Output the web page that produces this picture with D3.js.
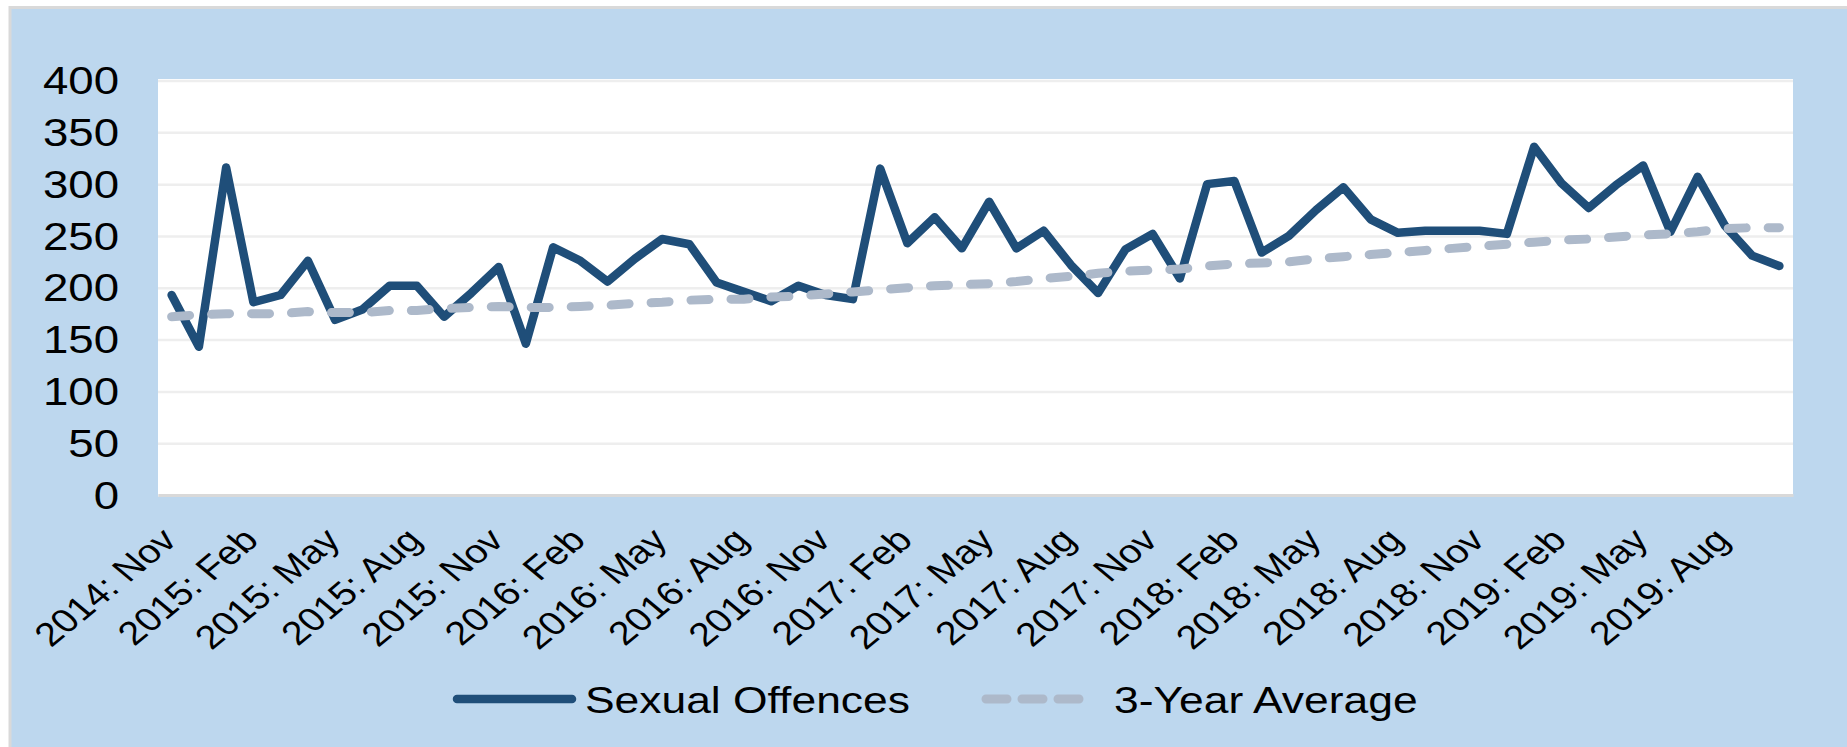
<!DOCTYPE html>
<html>
<head>
<meta charset="utf-8">
<script src="https://cdn.jsdelivr.net/npm/d3@7"></script>
<style>
  body { margin: 0; background: #fff; }
  svg { display: block; font-family: "Liberation Sans", Arial, sans-serif; }
</style>
</head>
<body>
<script>
// Categories: one per month, Nov 2014 - Oct 2019
const meses = [
  "2014: Nov", "2014: Dec",
  "2015: Jan", "2015: Feb", "2015: Mar", "2015: Apr", "2015: May", "2015: Jun",
  "2015: Jul", "2015: Aug", "2015: Sep", "2015: Oct", "2015: Nov", "2015: Dec",
  "2016: Jan", "2016: Feb", "2016: Mar", "2016: Apr", "2016: May", "2016: Jun",
  "2016: Jul", "2016: Aug", "2016: Sep", "2016: Oct", "2016: Nov", "2016: Dec",
  "2017: Jan", "2017: Feb", "2017: Mar", "2017: Apr", "2017: May", "2017: Jun",
  "2017: Jul", "2017: Aug", "2017: Sep", "2017: Oct", "2017: Nov", "2017: Dec",
  "2018: Jan", "2018: Feb", "2018: Mar", "2018: Apr", "2018: May", "2018: Jun",
  "2018: Jul", "2018: Aug", "2018: Sep", "2018: Oct", "2018: Nov", "2018: Dec",
  "2019: Jan", "2019: Feb", "2019: Mar", "2019: Apr", "2019: May", "2019: Jun",
  "2019: Jul", "2019: Aug", "2019: Sep", "2019: Oct"
];

// Sexual Offences, monthly count
const delitos = [
  193, 143,
  316, 186, 193, 226, 169, 179, 202, 202, 172, 195, 220, 146,
  239, 226, 206, 228, 247, 242, 205, 196, 187, 202, 193, 189,
  315, 243, 268, 238, 283, 238, 255, 222, 195, 237, 252, 209,
  300, 303, 234, 250, 275, 297, 266, 253, 255, 255, 255, 252,
  336, 301, 277, 299, 318, 254, 307, 260, 231, 221
];

// 3-Year Average
const promedio = [
  172, 174,
  175, 175, 175, 177, 176, 176, 178, 178, 180, 181, 182, 181,
  181, 182, 183, 185, 186, 188, 189, 189, 191, 192, 194, 196,
  198, 200, 202, 203, 204, 206, 209, 211, 214, 216, 217, 218,
  221, 223, 224, 225, 228, 230, 232, 234, 236, 238, 240, 242,
  244, 246, 247, 249, 251, 252, 254, 257, 258, 258
];

// Labels shown on the x axis (every third month)
const etiquetasX = [
  "2014: Nov", "2015: Feb", "2015: May", "2015: Aug", "2015: Nov",
  "2016: Feb", "2016: May", "2016: Aug", "2016: Nov", "2017: Feb",
  "2017: May", "2017: Aug", "2017: Nov", "2018: Feb", "2018: May",
  "2018: Aug", "2018: Nov", "2019: Feb", "2019: May", "2019: Aug"
];

const ticksY = [0, 50, 100, 150, 200, 250, 300, 350, 400];

const seriesNombres = ["Sexual Offences", "3-Year Average"];

// Dimensions
const width = 1847, height = 747;
const plot = {left: 158, right: 1793, top: 80.5, bottom: 495};
const stretch = 1.2; // text in the picture is wider than normal

const svg = d3.select("body").append("svg")
  .attr("width", width)
  .attr("height", height);

// Light blue panel
svg.append("rect")
  .attr("x", 10).attr("y", 7.5)
  .attr("width", width).attr("height", height)
  .attr("fill", "#BDD7EE")
  .attr("stroke", "#D9D9D9")
  .attr("stroke-width", 3);

// White plot area
svg.append("rect")
  .attr("x", plot.left).attr("y", plot.top - 1.5)
  .attr("width", plot.right - plot.left)
  .attr("height", plot.bottom - plot.top + 1.5)
  .attr("fill", "#fff");

// Scales
const xScale = d3.scaleBand()
  .domain(meses)
  .range([plot.left, plot.right]);
const xPos = m => xScale(m) + xScale.bandwidth() / 2;

const yScale = d3.scaleLinear()
  .domain([0, 400])
  .range([plot.bottom, plot.top]);

// Gridlines
svg.append("g")
  .attr("transform", `translate(${plot.left},0)`)
  .call(d3.axisLeft(yScale).tickValues(ticksY)
    .tickSize(-(plot.right - plot.left)).tickFormat(""))
  .call(g => g.select(".domain").remove())
  .call(g => g.selectAll("line").attr("stroke", "#EEEEEE").attr("stroke-width", 2.5));

// Y labels
svg.append("g")
  .selectAll("text")
  .data(ticksY)
  .join("text")
  .attr("transform", d => `translate(119,${yScale(d)}) scale(${stretch},1)`)
  .attr("text-anchor", "end")
  .attr("dy", "0.36em")
  .attr("font-size", 38)
  .attr("fill", "#000")
  .text(d => d);

// X axis
const ejeX = svg.append("g")
  .attr("transform", `translate(0,${plot.bottom})`)
  .call(d3.axisBottom(xScale).tickValues(etiquetasX).tickSize(0).tickSizeOuter(0));
ejeX.attr("font-family", null).attr("font-size", null);
ejeX.select(".domain").attr("stroke", "#D9D9D9").attr("stroke-width", 3);
ejeX.selectAll("text")
  .attr("x", null).attr("y", null).attr("dy", null)
  .attr("text-anchor", "end")
  .attr("font-size", 33)
  .attr("fill", "#000")
  .attr("transform", `translate(7,47) scale(${stretch},1) rotate(-45)`);

// Lines
const linea = d3.line()
  .x((d, i) => xPos(meses[i]))
  .y(d => yScale(d));

svg.append("path")
  .datum(delitos)
  .attr("fill", "none")
  .attr("stroke", "#1F4E79")
  .attr("stroke-width", 8.5)
  .attr("stroke-linejoin", "round")
  .attr("stroke-linecap", "round")
  .attr("d", linea);

svg.append("path")
  .datum(promedio)
  .attr("fill", "none")
  .attr("stroke", "#ADB9CA")
  .attr("stroke-width", 9)
  .attr("stroke-dasharray", "18,22")
  .attr("stroke-linecap", "round")
  .attr("d", linea);

// Legend
const leyenda = [
  {nombre: seriesNombres[0], x1: 457, x2: 572, tx: 585, color: "#1F4E79", dash: null, w: 8.5},
  {nombre: seriesNombres[1], x1: 986, x2: 1087, tx: 1114, color: "#ADB9CA", dash: "21,15", w: 9}
];
const items = svg.append("g").selectAll("g").data(leyenda).join("g");
items.append("line")
  .attr("x1", d => d.x1).attr("x2", d => d.x2)
  .attr("y1", 699).attr("y2", 699)
  .attr("stroke", d => d.color)
  .attr("stroke-width", d => d.w)
  .attr("stroke-linecap", "round")
  .attr("stroke-dasharray", d => d.dash);
items.append("text")
  .attr("transform", d => `translate(${d.tx},713) scale(${stretch},1)`)
  .attr("font-size", 37)
  .attr("fill", "#000")
  .text(d => d.nombre);
</script>
</body>
</html>
